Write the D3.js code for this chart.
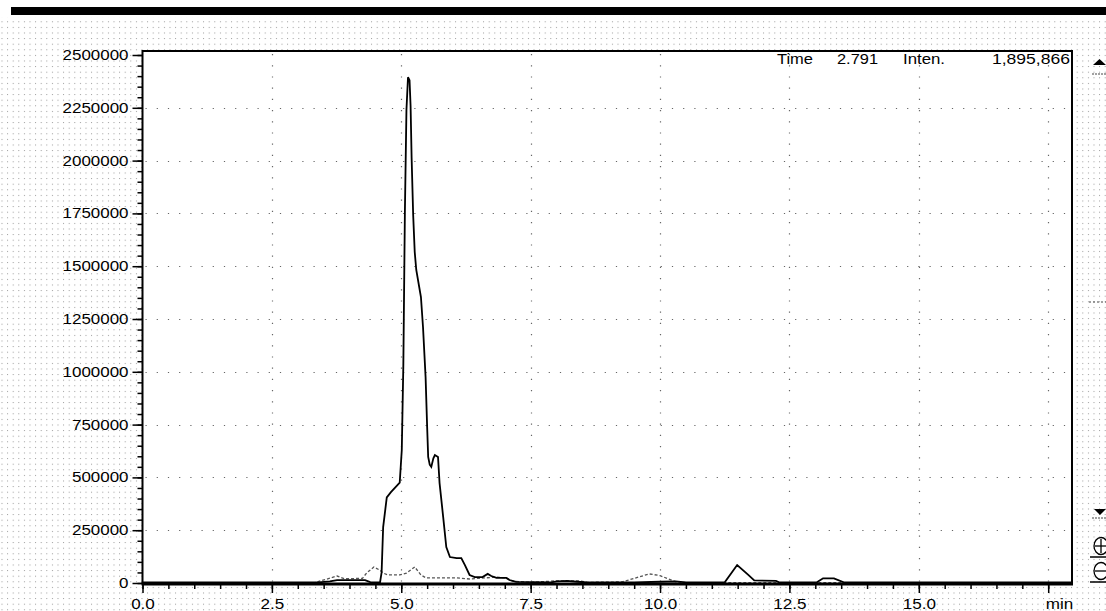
<!DOCTYPE html>
<html>
<head>
<meta charset="utf-8">
<script src="https://cdn.jsdelivr.net/npm/d3@7/dist/d3.min.js"></script>
<style>
  html, body { margin: 0; padding: 0; background: #fff; }
  svg { display: block; }
  text { font-family: "Liberation Sans", Arial, sans-serif; fill: #000; }
</style>
</head>
<body>
<svg id="chart" width="1106" height="611"></svg>
<script>
// Retention times (min) and intensities of the main chromatogram trace
const mainTime = [0, 3.40, 3.62, 3.76, 4.30, 4.40, 4.59, 4.62, 4.65, 4.72, 4.80, 4.93, 4.97,
  5.01, 5.04, 5.07, 5.10, 5.13, 5.16, 5.18, 5.20, 5.23, 5.26, 5.29, 5.34, 5.38, 5.42,
  5.47, 5.50, 5.52, 5.55, 5.58, 5.62, 5.65, 5.71, 5.74, 5.81, 5.87, 5.94, 6.07, 6.16,
  6.23, 6.32, 6.42, 6.57, 6.67, 6.74, 6.84, 7.03, 7.09, 7.22, 7.90, 8.00, 8.20, 8.40,
  8.60, 9.50, 10.00, 10.30, 10.50, 11.25, 11.49, 11.70, 11.82, 12.24, 12.30, 13.03,
  13.15, 13.36, 13.55, 17.96];
const mainIntensity = [3000, 3000, 8000, 14000, 14000, 4000, 3000, 50000, 265000, 405000,
  430000, 465000, 475000, 630000, 1032000, 1756000, 2240000, 2395000, 2380000, 2260000,
  2012000, 1742000, 1567000, 1482000, 1411000, 1354000, 1212000, 975000, 739000, 597000,
  560000, 550000, 590000, 606000, 597000, 473000, 312000, 170000, 123000, 118000, 118000,
  85000, 38000, 28000, 28000, 43000, 33000, 24000, 24000, 14000, 5000, 3000, 8000, 10000,
  6000, 3000, 3000, 6000, 8000, 3000, 3000, 85000, 40000, 12000, 10000, 3000, 3000,
  22000, 22000, 3000, 3000];

// Second (dotted) trace
const traceTime = [0, 3.33, 3.76, 3.90, 4.25, 4.33, 4.47, 4.59, 4.65, 4.74, 4.97, 5.10,
  5.26, 5.38, 5.48, 6.07, 6.32, 6.84, 7.03, 7.15, 7.50, 7.99, 8.44, 8.60, 9.27, 9.79,
  10.00, 10.31, 10.50, 17.96];
const traceIntensity = [2000, 2000, 33000, 20000, 22000, 47000, 76000, 60000, 47000, 38000,
  38000, 47000, 76000, 38000, 24000, 24000, 19000, 28000, 24000, 9000, 3000, 10000, 10000,
  3000, 5000, 43000, 35000, 5000, 2000, 2000];

// Axis ticks
const yMajorTicks = [0, 250000, 500000, 750000, 1000000, 1250000, 1500000, 1750000,
  2000000, 2250000, 2500000];
const xMajorTicks = [0, 2.5, 5, 7.5, 10, 12.5, 15, 17.5];
const xTickLabels = ["0.0", "2.5", "5.0", "7.5", "10.0", "12.5", "15.0", "min"];

// Cursor read-out
const readout = ["Time", "2.791", "Inten.", "1,895,866"];

const svg = d3.select("#chart");
const W = 1106, H = 611;
const plot = { left: 142.5, right: 1072, top: 51, bottom: 584 };

const x = d3.scaleLinear().domain([0, 17.96]).range([plot.left, plot.right]);
const y = d3.scaleLinear().domain([0, 2500000]).range([583, 55]);

// Dotted window background
const defs = svg.append("defs");
const pat = defs.append("pattern").attr("id", "dots")
  .attr("patternUnits", "userSpaceOnUse")
  .attr("x", 1.5).attr("y", 4.5).attr("width", 5.6).attr("height", 5.6);
pat.append("rect").attr("width", 1).attr("height", 1).attr("fill", "#9a9a9a");

svg.append("rect").attr("width", W).attr("height", H).attr("fill", "#fff");
svg.append("rect").attr("x", 0).attr("y", 17).attr("width", W).attr("height", H - 17)
  .attr("fill", "url(#dots)");
// Title bar strip
svg.append("rect").attr("x", 11).attr("y", 7).attr("width", W - 11).attr("height", 8)
  .attr("fill", "#000");

// Plot area
svg.append("rect").attr("x", plot.left).attr("y", plot.top)
  .attr("width", plot.right - plot.left).attr("height", plot.bottom - plot.top)
  .attr("fill", "#fff");

// Dotted grid
const grid = svg.append("g").attr("stroke", "#666").attr("stroke-width", 1.2)
  .attr("stroke-dasharray", "1.2,10");
grid.selectAll("line.h").data(yMajorTicks.filter(d => d > 0 && d < 2500000)).join("line")
  .attr("x1", plot.left + 3).attr("x2", plot.right - 1)
  .attr("y1", d => Math.round(y(d)) + 0.5).attr("y2", d => Math.round(y(d)) + 0.5);
grid.selectAll("line.v").data(xMajorTicks.filter(d => d > 0)).join("line")
  .attr("y1", plot.top + 3).attr("y2", plot.bottom - 2)
  .attr("x1", d => Math.round(x(d)) + 0.5).attr("x2", d => Math.round(x(d)) + 0.5);

// Traces
const line = d3.line().x(d => x(d[0])).y(d => y(d[1]));
svg.append("path")
  .datum(d3.zip(traceTime, traceIntensity))
  .attr("d", line).attr("fill", "none")
  .attr("stroke", "#555").attr("stroke-width", 1.3).attr("stroke-dasharray", "3,2");
svg.append("path")
  .datum(d3.zip(mainTime, mainIntensity))
  .attr("d", line).attr("fill", "none")
  .attr("stroke", "#000").attr("stroke-width", 1.8).attr("stroke-linejoin", "miter");

// Frame
svg.append("path")
  .attr("d", `M${plot.left},${plot.bottom}V${plot.top}H${plot.right}V${plot.bottom}`)
  .attr("fill", "none").attr("stroke", "#000").attr("stroke-width", 2);
svg.append("line").attr("x1", plot.left - 1).attr("x2", plot.right + 1)
  .attr("y1", plot.bottom).attr("y2", plot.bottom)
  .attr("stroke", "#000").attr("stroke-width", 3);

// Stretch text horizontally like the bitmap font
function widen(sel, k) {
  sel.each(function () {
    const len = this.getComputedTextLength();
    d3.select(this).attr("textLength", len * k).attr("lengthAdjust", "spacingAndGlyphs");
  });
}

// Y axis
const yMinor = d3.range(0, 2500001, 50000);
svg.append("g").attr("transform", `translate(${plot.left},0)`)
  .call(d3.axisLeft(y).tickValues(yMinor).tickSize(5).tickFormat(""))
  .call(g => g.select(".domain").remove())
  .call(g => g.selectAll("line").attr("stroke", "#000").attr("stroke-width", 1.5));
const yAxis = svg.append("g").attr("transform", `translate(${plot.left},0)`)
  .call(d3.axisLeft(y).tickValues(yMajorTicks).tickSize(10).tickPadding(4)
    .tickFormat(d3.format("d")))
  .call(g => g.select(".domain").remove())
  .call(g => g.selectAll("line").attr("stroke", "#000").attr("stroke-width", 1.5))
  .call(g => g.selectAll("text").attr("font-size", 14).attr("fill", "#000")
    .attr("font-family", "Liberation Sans, Arial, sans-serif"));
widen(yAxis.selectAll("text"), 1.21);

// X axis
const xMinor = d3.range(0, 17.51, 0.5);
svg.append("g").attr("transform", `translate(0,${plot.bottom + 1})`)
  .call(d3.axisBottom(x).tickValues(xMinor).tickSize(4).tickFormat(""))
  .call(g => g.select(".domain").remove())
  .call(g => g.selectAll("line").attr("stroke", "#000").attr("stroke-width", 1.5));
const xAxis = svg.append("g").attr("transform", `translate(0,${plot.bottom + 1})`)
  .call(d3.axisBottom(x).tickValues(xMajorTicks).tickSize(8)
    .tickFormat((d, i) => xTickLabels[i]))
  .call(g => g.select(".domain").remove())
  .call(g => g.selectAll("line").attr("stroke", "#000").attr("stroke-width", 1.5))
  .call(g => g.selectAll("text").attr("y", 24).attr("dy", 0).attr("font-size", 14)
    .attr("fill", "#000").attr("font-family", "Liberation Sans, Arial, sans-serif"));
widen(xAxis.selectAll("text"), 1.22);
xAxis.selectAll("text").filter((d, i) => xTickLabels[i] === "min")
  .attr("text-anchor", "start").attr("x", -3);

// Cursor read-out at the top right of the plot
const readX = [777, 837, 903, 992];
const readW = [36, 41, 42, 78];
svg.append("g").selectAll("text").data(readout).join("text")
  .attr("x", (d, i) => readX[i]).attr("y", 64)
  .attr("font-size", 15)
  .attr("textLength", (d, i) => readW[i]).attr("lengthAdjust", "spacingAndGlyphs")
  .text(d => d);

// Scroll / zoom controls on the right edge
const ctl = svg.append("g");
ctl.append("path").attr("d", "M1093,65L1099.5,59L1106,65Z").attr("fill", "#000");
ctl.append("line").attr("x1", 1092).attr("x2", 1106).attr("y1", 74).attr("y2", 74)
  .attr("stroke", "#444").attr("stroke-dasharray", "2,1");
ctl.append("line").attr("x1", 1089).attr("x2", 1106).attr("y1", 302).attr("y2", 302)
  .attr("stroke", "#444").attr("stroke-dasharray", "2,2");
ctl.append("path").attr("d", "M1094,509L1100,515L1106,509Z").attr("fill", "#000");
ctl.append("line").attr("x1", 1092).attr("x2", 1106).attr("y1", 518).attr("y2", 518)
  .attr("stroke", "#444").attr("stroke-dasharray", "2,1");
[546, 571].forEach((cy, i) => {
  ctl.append("ellipse").attr("cx", 1101).attr("cy", cy).attr("rx", 7).attr("ry", 8.5)
    .attr("fill", "#fff").attr("stroke", "#000").attr("stroke-width", 1.3);
  ctl.append("line").attr("x1", 1095).attr("x2", 1106).attr("y1", cy).attr("y2", cy)
    .attr("stroke", "#000").attr("stroke-width", 1.3);
  if (i === 0) ctl.append("line").attr("x1", 1101).attr("x2", 1101)
    .attr("y1", cy - 7).attr("y2", cy + 7).attr("stroke", "#000").attr("stroke-width", 1.3);
  ctl.append("line").attr("x1", 1090).attr("x2", 1106).attr("y1", cy + 11).attr("y2", cy + 11)
    .attr("stroke", "#000").attr("stroke-width", 1.5);
});
</script>
</body>
</html>
